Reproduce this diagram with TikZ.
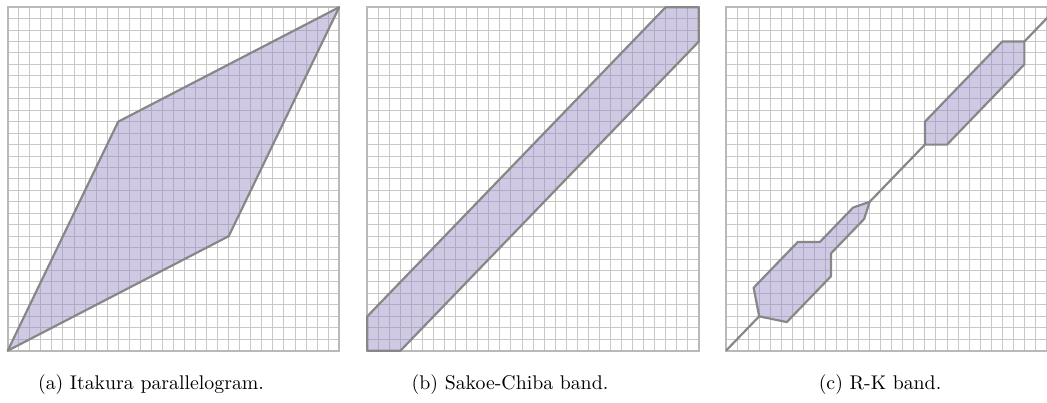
\documentclass[tikz,border=0pt]{standalone}
\usetikzlibrary{positioning}

\definecolor{bandfill}{RGB}{150,135,195}
\definecolor{gridgray}{RGB}{200,200,200}
\definecolor{edgegray}{RGB}{135,135,135}

\tikzset{
  gridline/.style={gridgray, line width=0.55pt},
  frameline/.style={gray!55, line width=1pt},
  region/.style={draw=edgegray, line width=1.2pt, fill=bandfill, fill opacity=0.45, line join=round},
  pathline/.style={edgegray, line width=1.2pt},
  caption/.style={anchor=base, font=\fontsize{10.9}{13}\selectfont}
}

% 30x30 cost grid of one panel
\newcommand{\drawcellgrid}{%
  \foreach \i in {0,...,30} {
    \draw[gridline] (\i,0) -- (\i,30);
    \draw[gridline] (0,\i) -- (30,\i);
  }
  \draw[frameline] (0,0) rectangle (30,30);
}

\begin{document}
\begin{tikzpicture}[x=0.55pt, y=0.55pt]
\useasboundingbox (0,0) rectangle (1047,403);

% (a) Itakura parallelogram
\begin{scope}[shift={(7.7,52.3)}, xscale=11.05, yscale=11.45]
  \drawcellgrid
  \draw[region] (0,0) -- (10,20) -- (30,30) -- (20,10) -- cycle;
\end{scope}

% (b) Sakoe-Chiba band
\begin{scope}[shift={(367.3,52.3)}, xscale=11.05, yscale=11.45]
  \drawcellgrid
  \draw[region] (0,0) -- (0,3) -- (27,30) -- (30,30) -- (30,27) -- (3,0) -- cycle;
\end{scope}

% (c) R-K band
\begin{scope}[shift={(726,52.3)}, xscale=11.05, yscale=11.45]
  \drawcellgrid
  \draw[pathline] (0,0) -- (3,3);
  \draw[pathline] (13,13) -- (18,18);
  \draw[pathline] (27,27) -- (30,30);
  \draw[region] (3,3) -- (2.5,5.5) -- (6.5,9.5) -- (8.5,9.5) -- (11.5,12.5) -- (13,13)
    -- (12.5,11.5) -- (9.5,8.5) -- (9.5,6.5) -- (5.5,2.5) -- cycle;
  \draw[region] (18,18) -- (18,20) -- (25,27) -- (27,27) -- (27,25) -- (20,18) -- cycle;
\end{scope}

\node[caption] (capA) at (151,13) {(a) Itakura parallelogram.};
\node[caption] (capB) at (510,13) {(b) Sakoe-Chiba band.};
\node[caption] (capC) at (880,13) {(c) R-K band.};
\end{tikzpicture}
\end{document}
